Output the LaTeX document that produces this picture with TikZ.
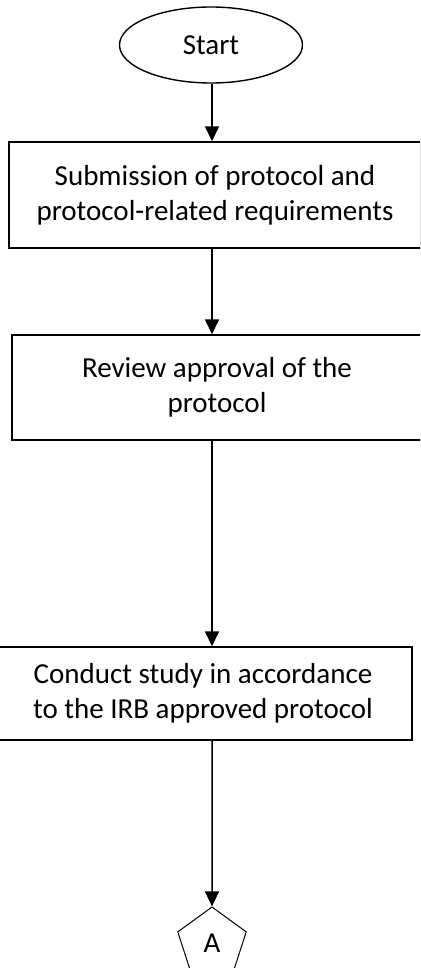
\documentclass[tikz,border=0pt]{standalone}
\usepackage{fontspec}
\setmainfont{Carlito}
\usetikzlibrary{arrows.meta,shapes.geometric}

\tikzset{
    flowtext/.style={font=\fontsize{29}{35}\selectfont, align=center},
    startend/.style={ellipse, draw, line width=1.4pt, minimum width=183, minimum height=76, inner sep=0pt, flowtext},
    stepbox/.style={rectangle, draw, line width=1.4pt, inner sep=0pt, flowtext},
    pageref/.style={regular polygon, regular polygon sides=5, draw, line width=1pt, minimum size=72, inner sep=0pt, flowtext},
    flowarrow/.style={-{Triangle[length=15pt, width=14pt]}, line width=1.5pt}
}

\begin{document}
\begin{tikzpicture}[x=1pt, y=-1pt]

    % page frame
    \path[clip] (0,0) rectangle (420,968);

    % steps
    \node[startend] (start) at (211,45) {Start};

    \node[stepbox, minimum width=412, minimum height=106]
        (submit) at (215,195) {Submission of protocol and\\protocol-related requirements};

    \node[stepbox, minimum width=410, minimum height=105]
        (review) at (217,387.5) {Review approval of the\\protocol};

    \node[stepbox, minimum width=418, minimum height=93]
        (conduct) at (203,693.5) {Conduct study in accordance\\to the IRB approved protocol};

    \node[pageref] (pageA) at (212,943) {A};

    % arrows
    \coordinate (axis) at (212,0);

    \draw[flowarrow] (start.south -| axis) -- (submit.north -| axis);
    \draw[flowarrow] (submit.south -| axis) -- (review.north -| axis);
    \draw[flowarrow] (review.south -| axis) -- (conduct.north -| axis);
    \draw[flowarrow] (conduct.south -| axis) -- (pageA.north);

\end{tikzpicture}
\end{document}
